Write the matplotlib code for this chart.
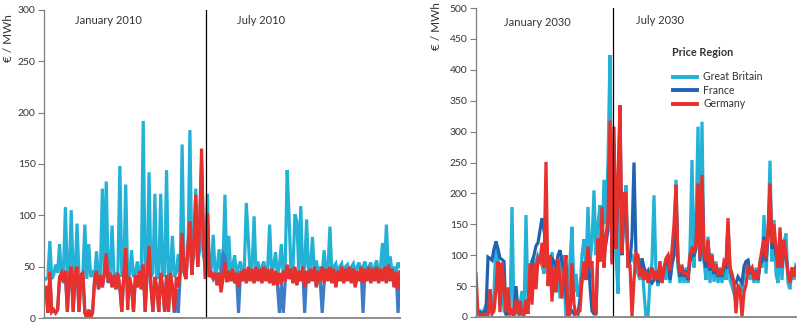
import matplotlib
matplotlib.use("Agg")
import matplotlib.pyplot as plt
from matplotlib.lines import Line2D

plt.rcParams['font.family'] = ['Lato', 'DejaVu Sans']

# ---- hourly-sampled wholesale prices, EUR/MWh (January block followed by July block) ----
gb_2010 = [
    38, 40, 75, 38, 42, 52, 44, 72, 40, 44, 108, 40, 44, 105, 40, 45, 92, 40, 42, 44,
    91, 38, 72, 40, 44, 40, 65, 38, 44, 126, 40, 133, 42, 44, 90, 40, 42, 45, 148, 40,
    44, 130, 40, 42, 66, 40, 44, 55, 40, 44, 192, 40, 44, 142, 40, 44, 121, 38, 42, 121,
    40, 44, 144, 38, 42, 80, 40, 44, 62, 45, 169, 50, 55, 60, 183, 55, 60, 126, 55, 65,
    95, 60, 55, 121, 45, 48, 81, 42, 48, 67, 42, 50, 120, 45, 80, 42, 50, 61, 42, 50,
    55, 42, 50, 112, 76, 42, 50, 99, 42, 55, 42, 50, 55, 42, 50, 91, 42, 50, 64, 42,
    50, 72, 42, 50, 144, 98, 42, 50, 101, 94, 45, 109, 42, 50, 96, 42, 50, 79, 42, 56,
    42, 50, 44, 66, 42, 50, 89, 42, 50, 53, 42, 50, 53, 42, 50, 52, 42, 50, 53, 42,
    50, 54, 42, 50, 55, 42, 50, 54, 42, 50, 56, 42, 50, 73, 45, 91, 45, 60, 42, 50,
    44, 54, 50,
]
fr_2010 = [
    28, 6, 40, 6, 8, 5, 8, 38, 42, 34, 44, 6, 40, 46, 6, 42, 46, 6, 40, 42,
    5, 0, 8, 0, 8, 36, 44, 28, 40, 30, 42, 58, 34, 42, 30, 40, 28, 42, 30, 6,
    40, 62, 28, 28, 30, 6, 40, 30, 44, 28, 48, 6, 42, 64, 30, 6, 38, 30, 6, 42,
    30, 6, 40, 6, 42, 30, 5, 28, 5, 42, 78, 44, 38, 68, 88, 42, 70, 112, 50, 88,
    150, 72, 38, 98, 40, 44, 38, 42, 32, 42, 40, 63, 60, 35, 44, 36, 46, 34, 42, 5,
    44, 36, 46, 34, 48, 36, 46, 34, 48, 36, 46, 34, 48, 36, 46, 34, 46, 32, 44, 32,
    5, 33, 5, 36, 50, 38, 46, 34, 48, 32, 44, 36, 48, 5, 44, 34, 46, 36, 48, 30,
    44, 36, 5, 34, 46, 36, 48, 34, 46, 30, 44, 36, 48, 34, 46, 36, 48, 34, 46, 30,
    44, 36, 48, 5, 46, 36, 48, 34, 46, 36, 48, 34, 46, 36, 48, 34, 50, 36, 46, 30,
    44, 5, 44,
]
de_2010 = [
    30, 5, 45, 6, 8, 5, 8, 40, 44, 36, 46, 6, 42, 50, 6, 44, 50, 6, 42, 44,
    5, 0, 8, 0, 5, 38, 46, 28, 42, 30, 44, 63, 35, 44, 30, 42, 28, 44, 30, 6,
    42, 68, 8, 40, 30, 6, 42, 30, 46, 28, 52, 6, 44, 70, 30, 6, 40, 30, 6, 44,
    30, 6, 42, 6, 44, 30, 6, 40, 30, 45, 83, 45, 38, 72, 94, 42, 72, 120, 50, 92,
    165, 75, 38, 102, 40, 45, 38, 44, 32, 44, 25, 38, 54, 35, 46, 36, 48, 34, 44, 30,
    46, 36, 48, 34, 50, 36, 48, 34, 50, 36, 48, 34, 50, 36, 48, 34, 48, 32, 46, 32,
    44, 33, 46, 36, 52, 38, 48, 34, 50, 32, 46, 36, 50, 30, 46, 34, 48, 36, 50, 30,
    46, 36, 50, 34, 48, 36, 50, 34, 48, 30, 46, 36, 50, 34, 48, 36, 50, 34, 48, 30,
    46, 36, 50, 34, 48, 36, 50, 34, 48, 36, 50, 34, 48, 36, 50, 34, 52, 36, 48, 30,
    45, 28, 45,
]

gb_2030 = [
    5, 8, 10, 6, 12, 19, 5, 45, 8, 40, 123, 90, 20, 55, 10, 5, 30, 5, 178, 5,
    10, 5, 20, 42, 5, 165, 20, 50, 90, 95, 80, 100, 95, 85, 70, 106, 80, 50, 105, 60,
    40, 95, 30, 100, 60, 0, 40, 90, 146, 40, 70, 33, 45, 100, 126, 80, 178, 90, 120, 205,
    100, 150, 181, 110, 222, 150, 252, 424, 90, 240, 100, 38, 200, 110, 150, 213, 90, 100, 100, 90,
    80, 70, 60, 90, 40, 0, 0, 60, 90, 197, 70, 50, 90, 55, 80, 60, 90, 55, 90, 100,
    222, 80, 55, 85, 55, 80, 55, 110, 254, 80, 150, 308, 100, 316, 90, 60, 130, 55, 103, 57,
    90, 55, 80, 55, 85, 60, 120, 60, 50, 38, 45, 40, 50, 45, 70, 80, 92, 60, 80, 55,
    80, 55, 90, 80, 165, 70, 130, 253, 90, 157, 70, 55, 120, 60, 120, 135, 55, 45, 80, 60,
    85,
]
fr_2030 = [
    5, 8, 8, 5, 8, 10, 97, 95, 92, 110, 122, 110, 95, 93, 90, 5, 5, 5, 8, 10,
    50, 10, 5, 8, 6, 10, 15, 50, 90, 100, 115, 120, 140, 160, 140, 120, 95, 60, 95, 90,
    80, 100, 108, 90, 75, 40, 5, 8, 10, 5, 8, 5, 30, 60, 80, 60, 110, 50, 10, 5,
    5, 110, 90, 150, 100, 120, 140, 300, 100, 280, 120, 200, 330, 100, 180, 180, 80, 90, 130, 250,
    100, 95, 70, 95, 80, 70, 75, 60, 55, 60, 70, 55, 80, 60, 75, 90, 100, 60, 85, 100,
    200, 90, 65, 80, 65, 75, 60, 90, 100, 100, 110, 200, 90, 220, 95, 80, 120, 75, 95, 70,
    80, 65, 75, 65, 80, 80, 150, 80, 65, 55, 55, 65, 60, 55, 82, 90, 92, 70, 78, 65,
    75, 60, 85, 90, 130, 90, 130, 200, 110, 130, 100, 90, 130, 80, 110, 100, 70, 60, 75, 70,
    80,
]
de_2030 = [
    70, 5, 2, 5, 3, 4, 3, 45, 5, 10, 44, 90, 8, 88, 45, 8, 48, 3, 10, 2,
    28, 5, 26, 5, 3, 28, 5, 87, 20, 88, 45, 95, 90, 120, 80, 251, 50, 100, 25, 80,
    40, 95, 60, 30, 75, 100, 0, 5, 87, 20, 5, 8, 10, 60, 90, 60, 114, 80, 90, 10,
    5, 127, 90, 178, 80, 130, 160, 318, 85, 308, 110, 222, 343, 103, 200, 200, 80, 85, 0, 60,
    103, 100, 65, 80, 60, 75, 55, 70, 80, 60, 75, 60, 90, 55, 80, 95, 100, 75, 110, 150,
    214, 90, 75, 80, 70, 70, 65, 100, 110, 103, 120, 216, 95, 230, 103, 90, 125, 80, 100, 75,
    85, 70, 75, 68, 90, 85, 160, 80, 70, 55, 6, 50, 45, 0, 40, 52, 80, 75, 80, 60,
    75, 62, 90, 110, 125, 95, 140, 216, 120, 150, 110, 80, 145, 80, 125, 100, 70, 55, 80, 65,
    80,
]

boundary_2010 = 82.3
boundary_2030 = 68.5

yticks_2010 = [0, 50, 100, 150, 200, 250, 300]
yticks_2030 = [0, 50, 100, 150, 200, 250, 300, 350, 400, 450, 500]

region_names = ['Great Britain', 'France', 'Germany']
region_colors = ['#23b2d6', '#1f63b0', '#e8302d']
fr_2010_color = '#3e7cc6'
text_color = '#333333'

W, H = 800, 322
fig = plt.figure(figsize=(W / 100, H / 100), dpi=100)

ax1 = fig.add_axes([44 / W, 4 / H, 356 / W, 308 / H])
ax2 = fig.add_axes([476 / W, 5 / H, 320 / W, 309 / H])

lw = 2.3
for ax, series, cols in (
    (ax1, (gb_2010, fr_2010, de_2010), (region_colors[0], fr_2010_color, region_colors[2])),
    (ax2, (gb_2030, fr_2030, de_2030), region_colors),
):
    for vals, c in zip(series, cols):
        ax.plot(range(len(vals)), vals, color=c, lw=lw, solid_joinstyle='miter')

ax1.set_xlim(-1, len(gb_2010) - 1)
ax1.set_ylim(0, 300)
ax1.set_yticks(yticks_2010)
ax2.set_xlim(0, len(gb_2030) - 1)
ax2.set_ylim(0, 500)
ax2.set_yticks(yticks_2030)

ax1.axvline(boundary_2010, color='black', lw=0.9)
ax2.axvline(boundary_2030, color='black', lw=0.9)

for ax in (ax1, ax2):
    for s in ('top', 'right'):
        ax.spines[s].set_visible(False)
    ax.spines['left'].set_color('#7f7f7f')
    ax.spines['left'].set_linewidth(0.9)
    ax.spines['bottom'].set_color('#8c8c8c')
    ax.spines['bottom'].set_linewidth(1.4)
    ax.set_xticks([])
    ax.tick_params(axis='y', direction='out', length=4, width=0.8, color='#7f7f7f',
                   labelsize=7.5, labelcolor=text_color, pad=2)


def fig_text(x_px, y_px, s, **kw):
    """Place text using pixel coordinates measured from the top-left corner."""
    kw.setdefault('color', text_color)
    kw.setdefault('va', 'center')
    return fig.text(x_px / W, 1 - y_px / H, s, **kw)


# axis titles
fig_text(9, 38, '€ / MWh', fontsize=8.5, rotation=90, ha='center')
fig_text(437, 26, '€ / MWh', fontsize=8.5, rotation=90, ha='center')

# month captions
fig_text(108, 21, 'January 2010', fontsize=8, ha='center')
fig_text(261, 21, 'July 2010', fontsize=8, ha='center')
fig_text(537, 22, 'January 2030', fontsize=8, ha='center')
fig_text(660, 21, 'July 2030', fontsize=8, ha='center')

# legend, laid out by hand
fig_text(672, 53, 'Price Region', fontsize=7.8, fontweight='bold', ha='left')
for k, (name, c) in enumerate(zip(region_names, region_colors)):
    y = 77 + 13.5 * k
    fig.add_artist(Line2D([673 / W, 697 / W], [1 - y / H, 1 - y / H], color=c, lw=2.8,
                          transform=fig.transFigure))
    fig_text(703, y - 0.5, name, fontsize=7.6, ha='left')

fig.savefig('out.png', dpi=100)
